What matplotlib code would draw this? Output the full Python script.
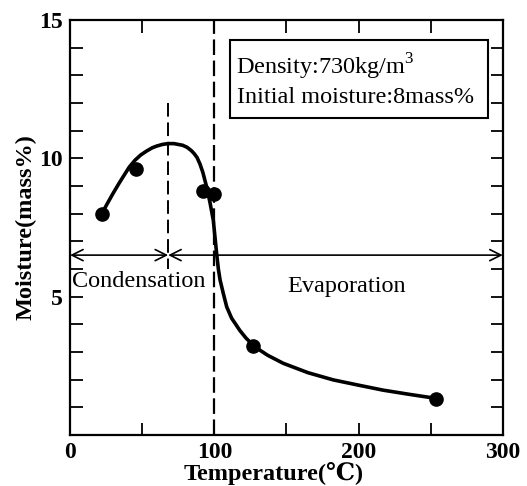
import matplotlib.pyplot as plt

plt.rcParams['font.family'] = ['Liberation Serif', 'DejaVu Serif']

# measured points
temp_pts = [22, 46, 92, 100, 127, 254]
moist_pts = [8.0, 9.6, 8.8, 8.7, 3.2, 1.3]

# smooth curve
curve_t = [22, 26, 30, 34, 37, 41, 45, 49, 53, 57, 60, 64, 68, 72, 75, 78, 81,
           84, 86, 88, 90, 92, 94.7, 97, 99.3, 101.6, 102.8, 104, 106.3, 108.6,
           112, 117.8, 122, 128, 137, 147.8, 165, 182.5, 200, 217, 235, 254]
curve_m = [8.0, 8.38, 8.75, 9.1, 9.35, 9.68, 9.93, 10.12, 10.26, 10.38, 10.44,
           10.5, 10.53, 10.53, 10.5, 10.47, 10.4, 10.28, 10.17, 10.03, 9.8,
           9.5, 8.96, 8.4, 7.76, 6.56, 6.0, 5.6, 5.1, 4.63, 4.22, 3.77, 3.5,
           3.19, 2.88, 2.59, 2.25, 1.99, 1.8, 1.62, 1.47, 1.32]

peak_t = 68
boil_t = 100
split_m = 6.5

fig = plt.figure(figsize=(5.27, 4.86), dpi=100)
ax = fig.add_axes([0.133, 0.105, 0.821, 0.854])

ax.plot(curve_t, curve_m, color='black', lw=2.6, solid_capstyle='round',
        solid_joinstyle='round')
ax.plot(temp_pts, moist_pts, 'o', color='black', ms=9.5)

ax.plot([peak_t, peak_t], [12.0, 6.0], color='black', lw=1.4, dashes=(7, 3))
ax.plot([boil_t, boil_t], [0, 15], color='black', lw=1.6, dashes=(7, 2.5))

arrow = dict(arrowstyle='<->', color='black', lw=1.2, shrinkA=0, shrinkB=0,
             mutation_scale=20)
ax.annotate('', xy=(0, split_m), xytext=(peak_t, split_m), arrowprops=arrow)
ax.annotate('', xy=(peak_t, split_m), xytext=(300, split_m), arrowprops=arrow)

ax.text(1.5, 5.55, 'Condensation', fontsize=17.5, va='center', ha='left')
ax.text(192, 5.36, 'Evaporation', fontsize=17.5, va='center', ha='center')

ax.text(115, 13.3, 'Density:730kg/m$^{\\mathregular{3}}$', fontsize=17.5,
        va='center', ha='left')
ax.text(116, 12.2, 'Initial moisture:8mass%', fontsize=17.5, va='center',
        ha='left')
ax.add_patch(plt.Rectangle((111, 11.44), 179, 2.82, fill=False, lw=1.5,
                           edgecolor='black'))

ax.set_xlim(0, 300)
ax.set_ylim(0, 15)
ax.set_xticks(range(0, 301, 50))
ax.set_xticklabels(['0', '', '100', '', '200', '', '300'])
ax.set_yticks(range(0, 16))
ax.set_yticklabels(['' if v == 0 or v % 5 else str(v) for v in range(0, 16)])
ax.tick_params(direction='in', length=9, width=1.3, top=True, right=True,
               labelsize=17, pad=5)
for lab in ax.get_xticklabels() + ax.get_yticklabels():
    lab.set_fontweight('bold')
for s in ax.spines.values():
    s.set_linewidth(1.6)

ax.set_xlabel('Temperature(℃)', fontsize=17.5, fontweight='bold', labelpad=0)
ax.xaxis.set_label_coords(0.47, -0.065)
ax.set_ylabel('Moisture(mass%)', fontsize=17.5, fontweight='bold', labelpad=2)

fig.savefig('out.png', dpi=100)
